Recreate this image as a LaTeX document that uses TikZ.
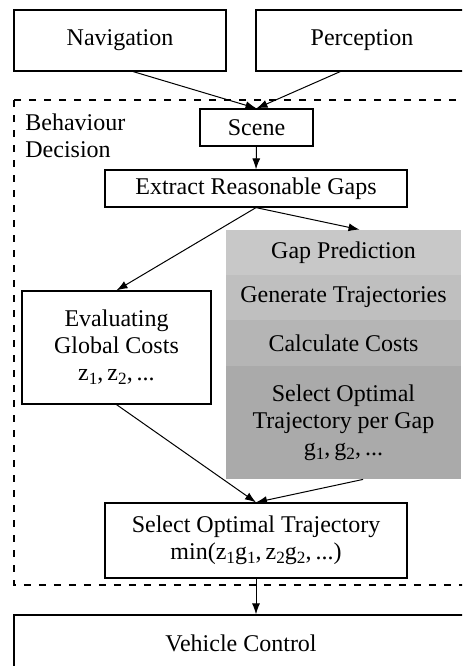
\documentclass[tikz,border=0pt]{standalone}
\usepackage{fontspec}
\setmainfont{Liberation Serif}
\usetikzlibrary{arrows.meta}
\definecolor{gA}{RGB}{200,200,200}
\definecolor{gB}{RGB}{191,191,191}
\definecolor{gC}{RGB}{181,181,181}
\definecolor{gD}{RGB}{170,170,170}
\newcommand{\mysub}[1]{\raisebox{-0.35ex}{\fontsize{8.6}{9}\selectfont #1}}
\tikzset{
  box/.style={draw, line width=0.6pt, fill=white, align=center, inner sep=0pt, font=\fontsize{12}{13.5}\selectfont},
  grow/.style={fill=#1, draw=none, align=center, inner sep=0pt, minimum width=117.5pt, font=\fontsize{12}{13.5}\selectfont},
  arr/.style={-{Latex[length=5.5pt,width=4pt]}, line width=0.5pt},
  frame/.style={draw, line width=0.6pt, dash pattern=on 3.5pt off 4pt},
}
\begin{document}
\begin{tikzpicture}[x=0.5pt,y=-0.5pt]
\useasboundingbox (0,0) rectangle (462,666);
\clip (0,0) rectangle (462,666);
\draw[frame] (14,100) rectangle (470,585);
\node[align=left, anchor=north west, inner sep=0pt, font=\fontsize{12}{13.5}\selectfont] (bd) at (25,113) {Behaviour\\Decision};
\node[box, minimum width=106pt, minimum height=30.5pt] (nav) at (120,40.5) {Navigation};
\node[box, minimum width=106pt, minimum height=30.5pt] (per) at (362,40.5) {Perception};
\node[box, minimum width=56.5pt, minimum height=18.5pt] (scene) at (256.5,127.5) {Scene};
\node[box, minimum width=151pt, minimum height=18.5pt] (ext) at (256,188.5) {Extract Reasonable Gaps};
\node[box, minimum width=94.5pt, minimum height=56.5pt] (eval) at (116.5,347.5) {Evaluating\\Global Costs\\z\mysub{1},\,z\mysub{2},\,...};
\node[grow=gA, minimum height=22.5pt] (g1) at (343.5,252.5) {Gap Prediction};
\node[grow=gB, minimum height=22.5pt] (g2) at (343.5,297.5) {Generate Trajectories};
\node[grow=gC, minimum height=23pt] (g3) at (343.5,343) {Calculate Costs};
\node[grow=gD, minimum height=56.5pt] (g4) at (343.5,422.5) {Select Optimal\\Trajectory per Gap\\g\mysub{1},\,g\mysub{2},\,...};
\node[box, minimum width=151pt, minimum height=37.5pt] (sel) at (256,540.5) {Select Optimal Trajectory\\min(z\mysub{1}g\mysub{1},\,z\mysub{2}g\mysub{2},\,...)};
\node[box, minimum width=227pt, minimum height=28.5pt] (veh) at (241,643.5) {Vehicle Control};
\draw[arr] (nav.-67) -- (scene.north);
\draw[arr] (per.-125) -- (scene.north);
\draw[arr] (scene.south) -- (ext.north);
\draw[arr] (ext.south) -- (eval.north);
\draw[arr] (ext.south) -- (g1.55);
\draw[arr] (eval.south) -- (sel.north);
\draw[arr] (g4.-71) -- (sel.north);
\draw[arr] (sel.south) -- (sel.south |- veh.north);
\end{tikzpicture}
\end{document}
